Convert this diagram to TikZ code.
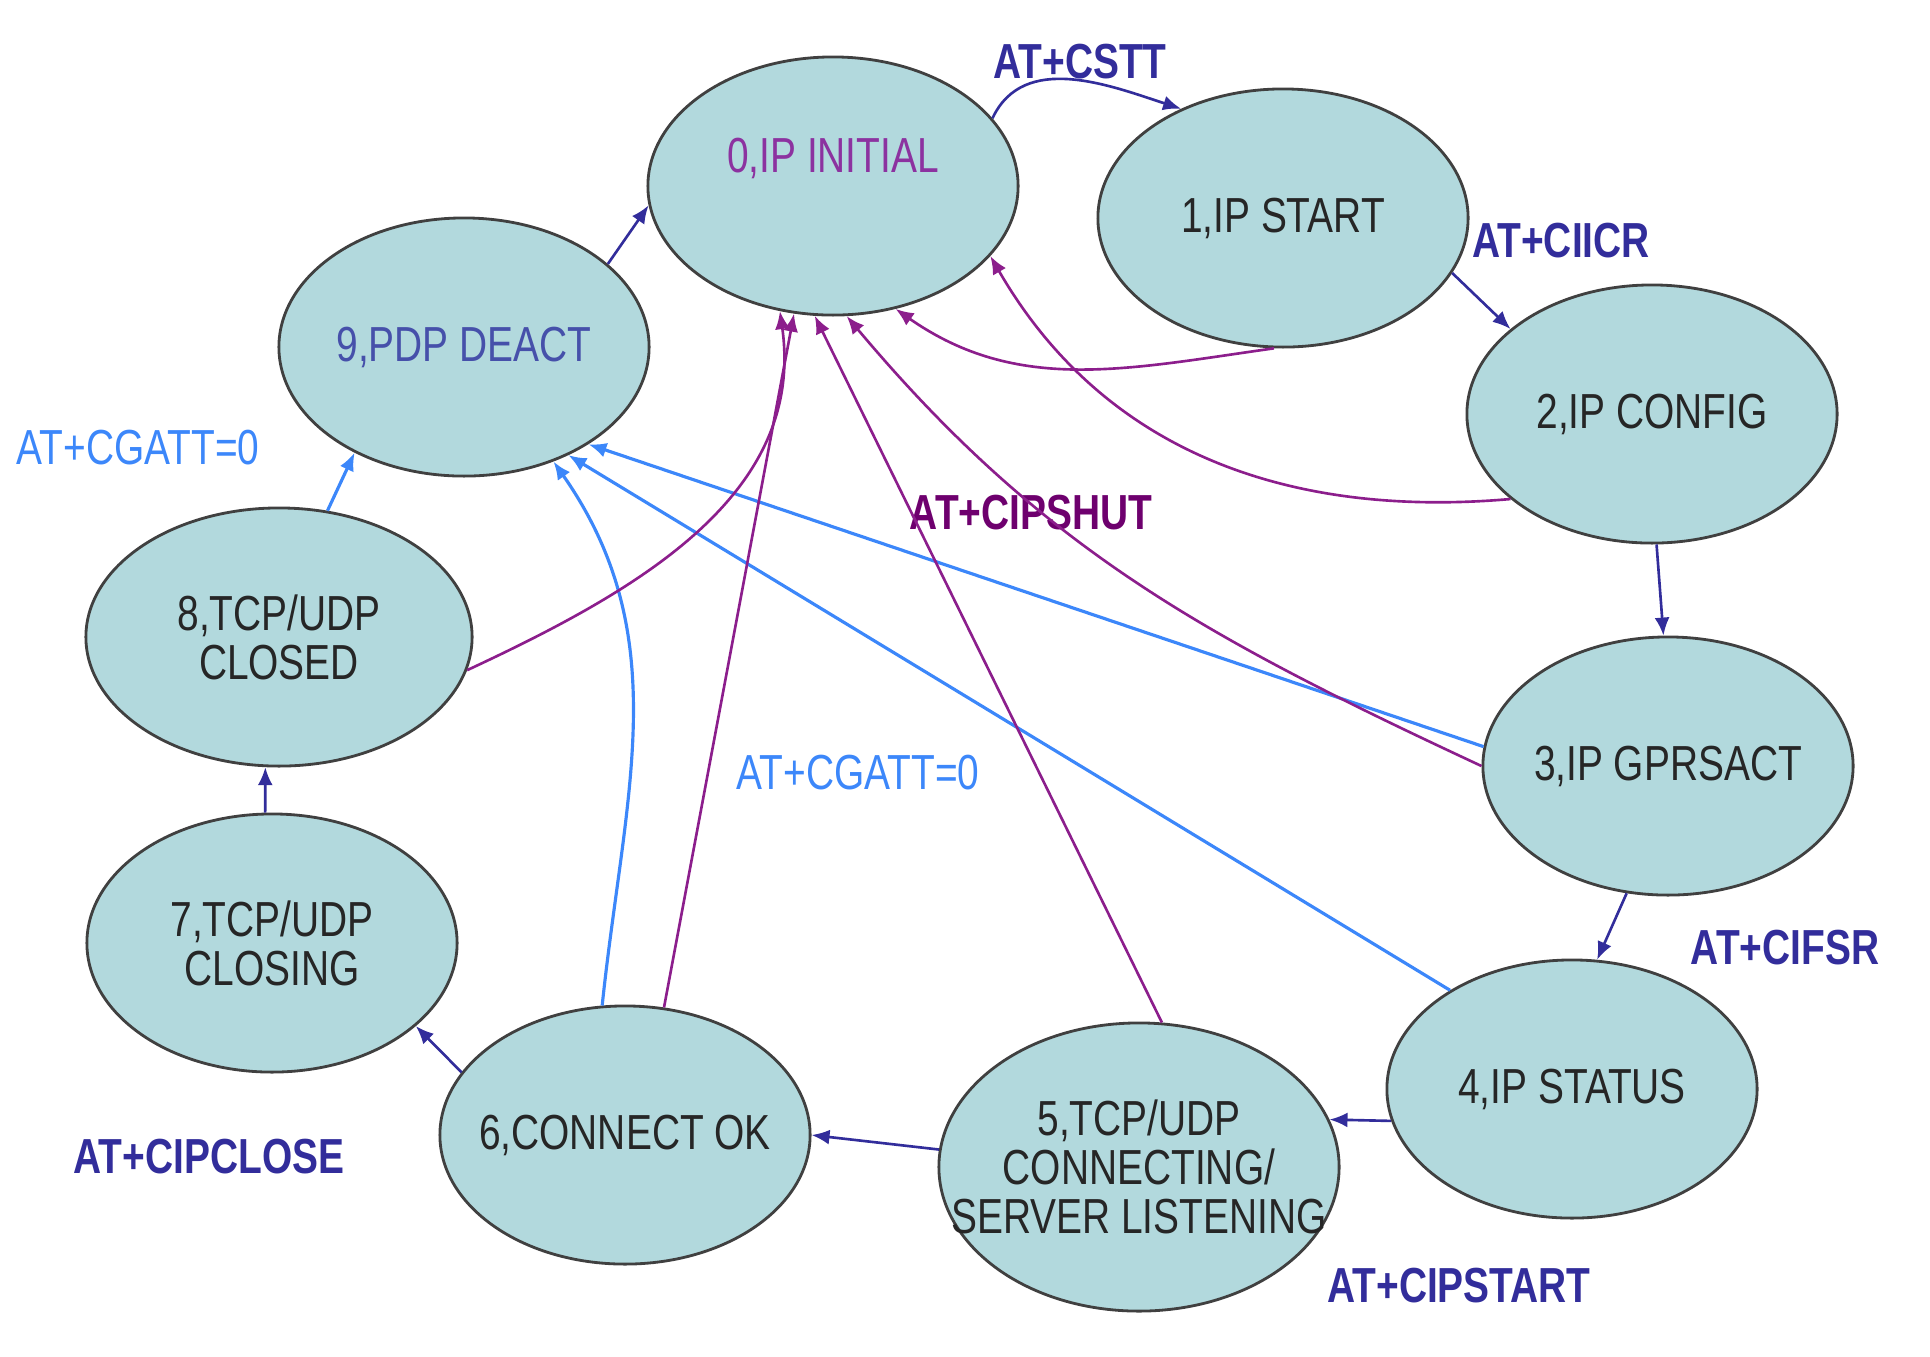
\documentclass[tikz,border=0pt]{standalone}
\usepackage{fontspec}
\setmainfont{Liberation Sans}[FakeStretch=0.79]
\usepackage{tikz}
\usetikzlibrary{shapes.geometric,arrows.meta}

\definecolor{stfill}{RGB}{178,217,221}
\definecolor{stline}{RGB}{64,64,64}
\definecolor{cmdblue}{RGB}{50,45,155}
\definecolor{gattblue}{RGB}{60,135,250}
\definecolor{shutpurple}{RGB}{140,30,140}
\definecolor{shutlabel}{RGB}{110,0,110}

\begin{document}
\begin{tikzpicture}[x=0.01cm,y=-0.01cm,
  state/.style={ellipse,draw=stline,line width=0.8pt,fill=stfill,inner sep=0pt,
    minimum width=3.7cm,minimum height=2.58cm},
  stext/.style={align=center,text=black!85,font=\fontsize{14}{14}\selectfont},
  cmd/.style={font=\fontsize{14}{14}\selectfont\bfseries,text=cmdblue},
  tip/.style={-{Latex[length=1.8mm,width=1.5mm]},line width=0.75pt},
  go/.style={tip,draw=cmdblue},
  gatt/.style={tip,draw=gattblue,line width=0.9pt},
  shut/.style={tip,draw=shutpurple}]
\useasboundingbox (0,0) rectangle (1930,1356);
  \node[state] (s0) at (833,186) {};
  \node[stext,text={rgb,255:red,140;green,50;blue,160}] (t0) at ([yshift=0.28cm]s0.center) {0,IP INITIAL};
  \node[state,label={[stext]center:1,IP START}] (s1) at (1283,218) {};
  \node[state,label={[stext]center:2,IP CONFIG}] (s2) at (1652,414) {};
  \node[state,label={[stext]center:3,IP GPRSACT}] (s3) at (1668,766) {};
  \node[state,label={[stext]center:4,IP STATUS}] (s4) at (1572,1089) {};
  \node[state,minimum width=4cm,minimum height=2.88cm,
    label={[stext]center:5,TCP/UDP\\CONNECTING/\\SERVER LISTENING}] (s5) at (1139,1167) {};
  \node[state,label={[stext]center:6,CONNECT OK}] (s6) at (625,1135) {};
  \node[state,label={[stext]center:7,TCP/UDP\\CLOSING}] (s7) at (272,943) {};
  \node[state,minimum width=3.86cm,label={[stext]center:8,TCP/UDP\\CLOSED}] (s8) at (279,637) {};
  \node[state,label={[stext,text={rgb,255:red,70;green,80;blue,170}]center:9,PDP DEACT}] (s9) at (464,347) {};

  \node[cmd] (cstt) at (1080,62) {AT+CSTT};
  \node[cmd] (ciicr) at (1561,241) {AT+CIICR};
  \node[cmd] (cifsr) at (1785,948) {AT+CIFSR};
  \node[cmd] (cipstart) at (1459,1286) {AT+CIPSTART};
  \node[cmd] (cipclose) at (209,1157) {AT+CIPCLOSE};
  \node[font=\fontsize{14}{14}\selectfont,text=gattblue] (gatta) at (138,448) {AT+CGATT=0};
  \node[font=\fontsize{14}{14}\selectfont,text=gattblue] (gattb) at (858,773) {AT+CGATT=0};
  \node[cmd,text=shutlabel] (cipshut) at (1031,513) {AT+CIPSHUT};

  \draw[go] (s0.23) to[out=65,in=162] (s1.133);
  \draw[go] (s1.-18) -- (s2.149);
  \draw[go] (s2.-88) -- (s3.92);
  \draw[go] (s3.-108) -- (s4.79);
  \draw[go] (s4.190) -- (s5.14);
  \draw[go] (s5.175) -- (s6.0);
  \draw[go] (s6.159) -- (s7.-30);
  \draw[go] (s7.93) -- (s8.-96);
  \draw[go] (s9.30) -- (s0.186);

  \draw[gatt] (s8.69) -- (s9.-136);
  \draw[gatt] (s6.100) to[out=84,in=-55] (s9.-52);
  \draw[gatt] (s4.141) -- (s9.-46);
  \draw[gatt] (s3.174) -- (s9.-38);

  \draw[shut] (s1.-94) to[out=188,in=-35] (s0.-63);
  \draw[shut] (s2.-149) to[out=185,in=-60] (s0.-24);
  \draw[shut] (s3.180) to[out=155,in=-50] (s0.-84);
  \draw[shut] (s5.81) -- (s0.-98);
  \draw[shut] (s6.73) -- (s0.-107);
  \draw[shut] (s8.-10) to[out=25,in=-82] (s0.-113);
\end{tikzpicture}
\end{document}
